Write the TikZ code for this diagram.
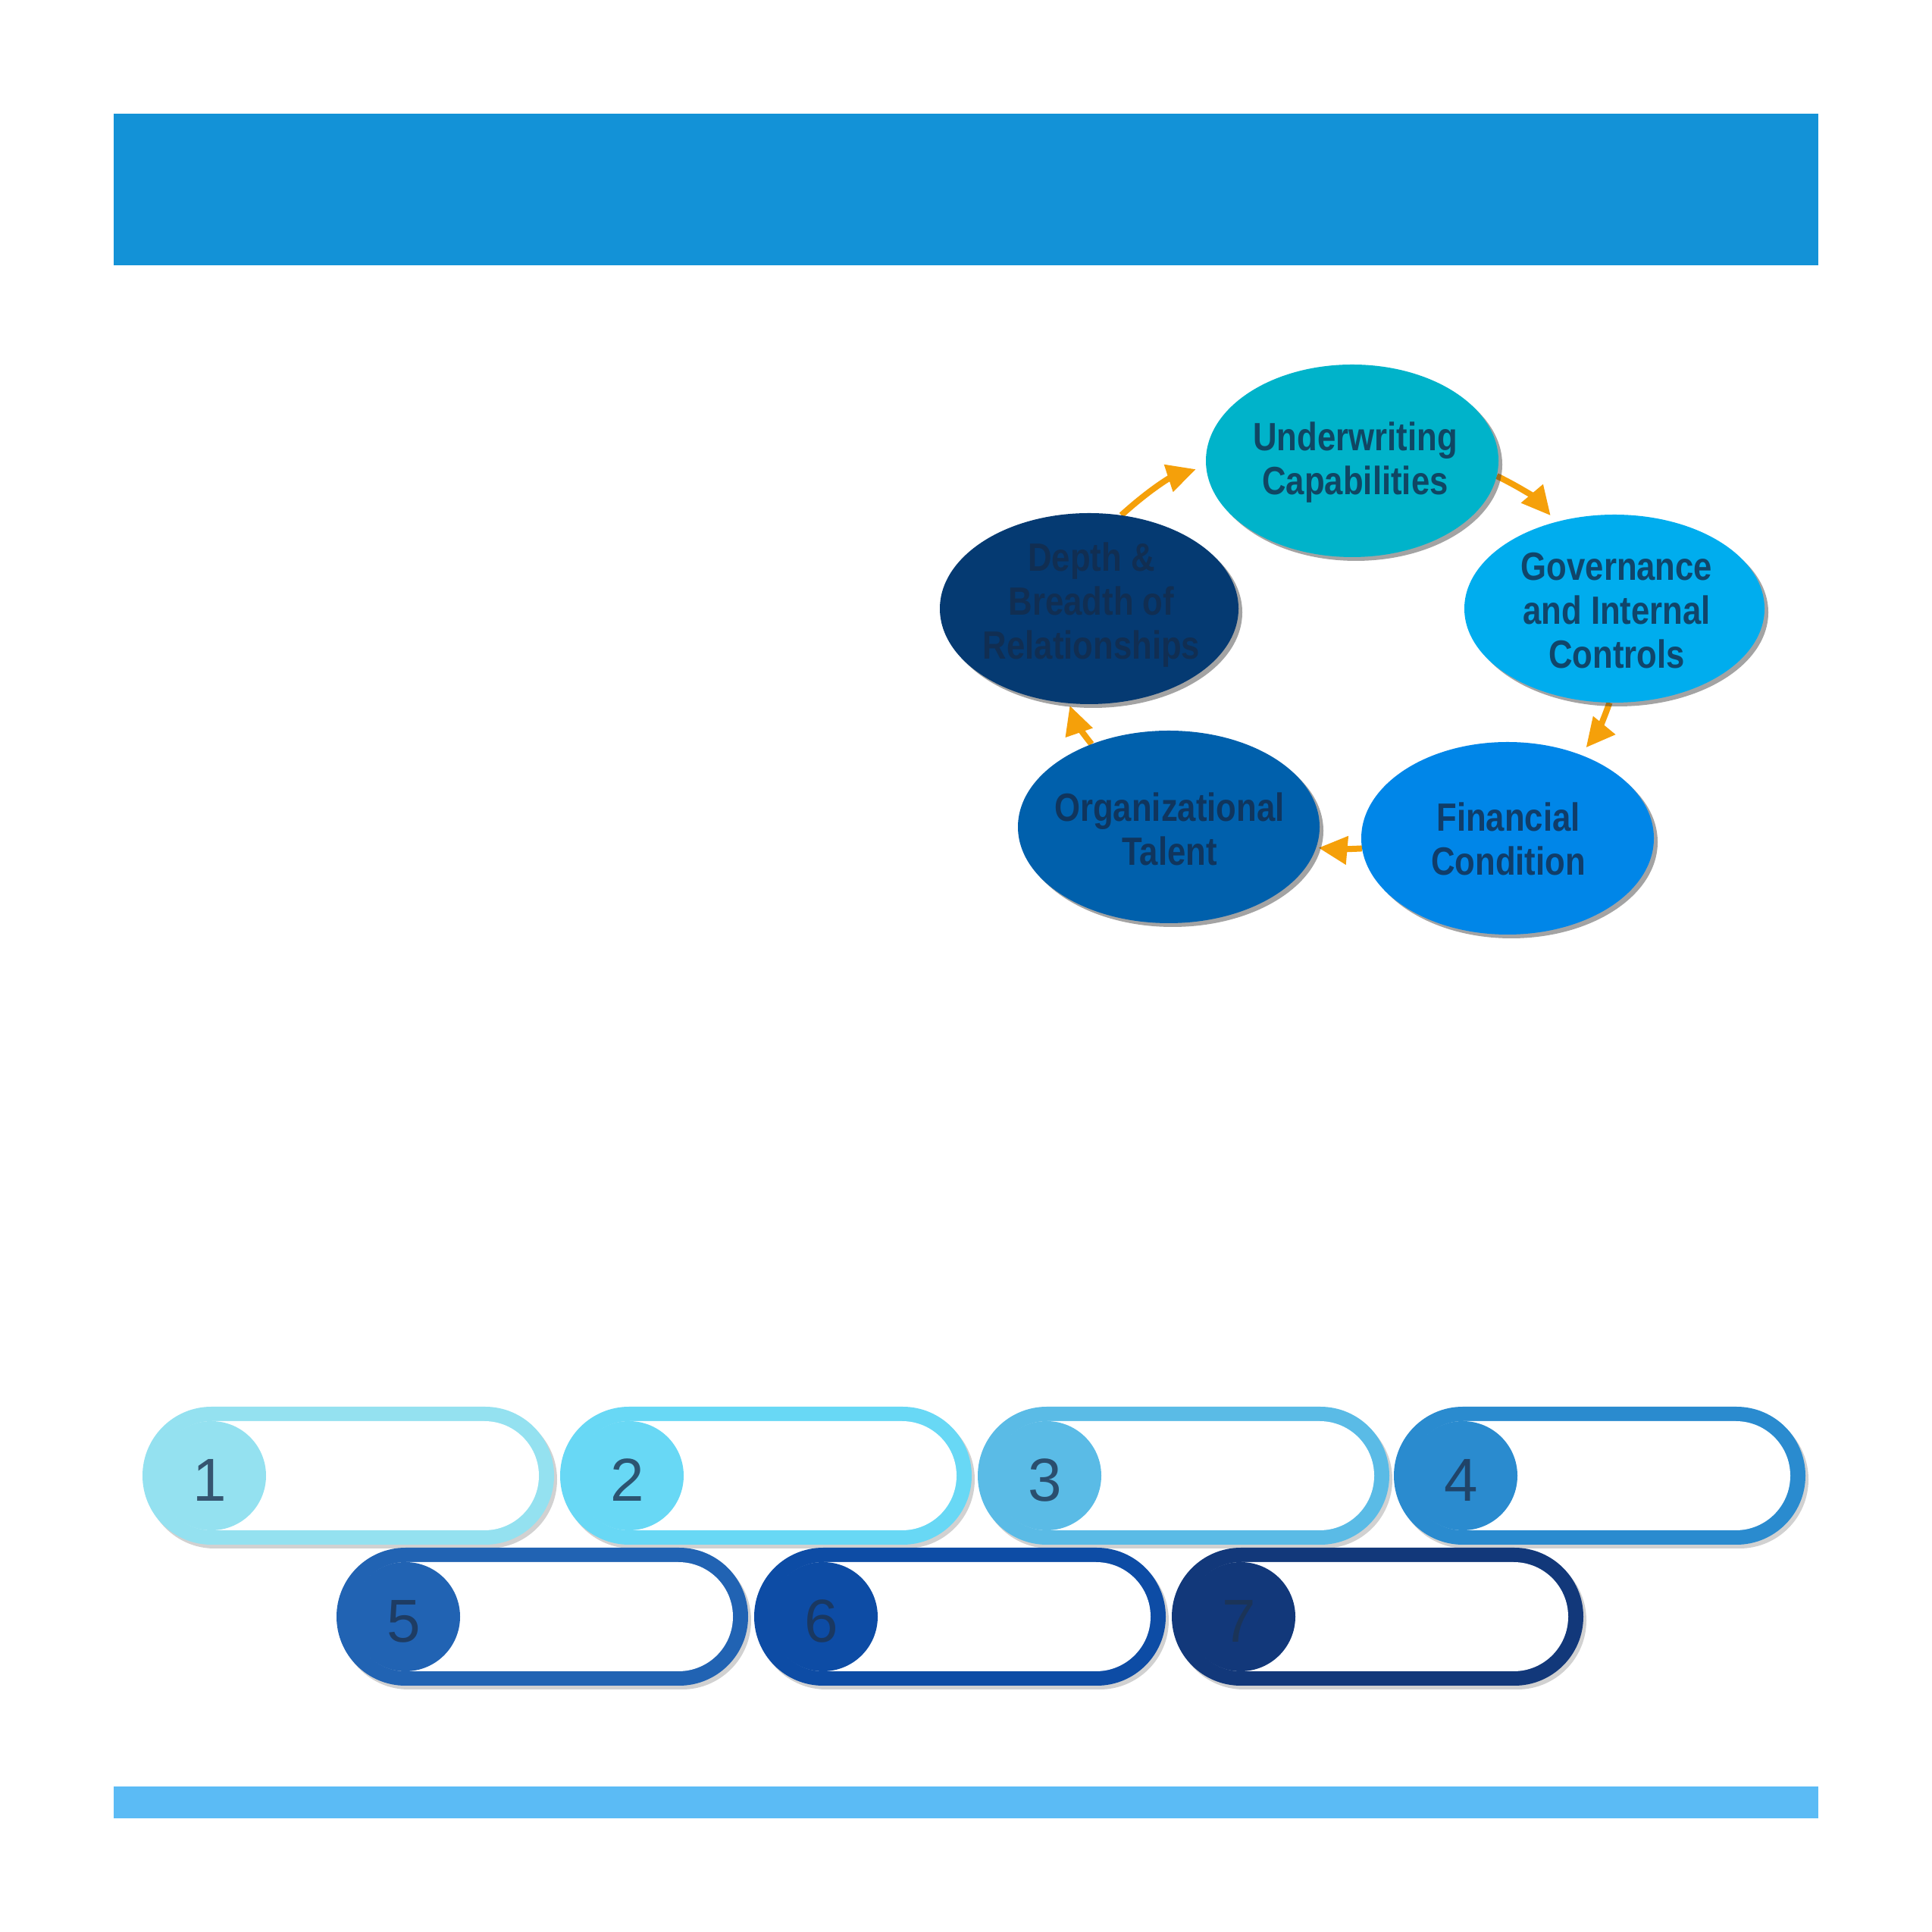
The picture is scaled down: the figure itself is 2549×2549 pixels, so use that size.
\documentclass[tikz,border=0pt]{standalone}
\usepackage{fontspec}
\setmainfont{Liberation Sans}
\newfontfamily\condfont[FakeStretch=0.84]{Liberation Sans}
\usetikzlibrary{shapes.geometric,shapes.misc,shadows,arrows.meta}
\definecolor{bannercol}{HTML}{1392D7}
\definecolor{barcol}{HTML}{5BBBF5}
\definecolor{undcol}{HTML}{00B3CA}
\definecolor{govcol}{HTML}{00ADEE}
\definecolor{fincol}{HTML}{0086E8}
\definecolor{orgcol}{HTML}{0060AC}
\definecolor{depcol}{HTML}{053A72}
\definecolor{arrcol}{HTML}{F5A00A}
\definecolor{elltxt}{HTML}{142B4A}
\definecolor{numcol}{HTML}{1E3350}
\definecolor{pa}{HTML}{94E1F0}
\definecolor{pb}{HTML}{68D8F5}
\definecolor{pc}{HTML}{5ABBE6}
\definecolor{pd}{HTML}{2A8BCF}
\definecolor{pe}{HTML}{2163B3}
\definecolor{pf}{HTML}{0D4CA5}
\definecolor{pg}{HTML}{12387A}
\pgfdeclarelayer{bg}
\pgfsetlayers{bg,main}
\begin{document}
\begin{tikzpicture}[x=1pt,y=1pt,
  ell/.style={ellipse, inner sep=0pt, draw=none,
    drop shadow={shadow xshift=5pt, shadow yshift=-5pt, opacity=0.45, fill=black!80}},
  elltext/.style={align=center, font=\condfont\bfseries\fontsize{52}{58}\selectfont,
    text=elltxt, text opacity=0.8, inner sep=0pt},
  arr/.style={draw=arrcol, line width=8pt, -{Triangle[length=38pt,width=36pt]}},
  pillout/.style={rounded rectangle, minimum width=543pt, minimum height=182pt, inner sep=0pt,
    drop shadow={shadow xshift=4pt, shadow yshift=-5pt, opacity=0.18, fill=black}},
  pillin/.style={rounded rectangle, fill=white, minimum width=503pt, minimum height=144pt, inner sep=0pt},
  pillcirc/.style={circle, minimum size=144pt, inner sep=0pt},
  numtxt/.style={font=\fontsize{80}{80}\selectfont, text=numcol, text opacity=0.8, inner sep=0pt}
]
\useasboundingbox (0,0) rectangle (2549,2549);
\begin{pgfonlayer}{bg}
\fill[white] (0,0) rectangle (2549,2549);
\end{pgfonlayer}

% banner and bottom bar
\fill[bannercol] (150,2199) rectangle (2399,2399);
\fill[barcol] (150,150) rectangle (2399,192);

% ellipses
\node[ell, fill=undcol, minimum width=386pt, minimum height=254pt] (und) at (1784,1941) {};
\node[ell, fill=govcol, minimum width=396pt, minimum height=248pt] (gov) at (2130,1746) {};
\node[ell, fill=fincol, minimum width=386pt, minimum height=254pt] (fin) at (1989,1443) {};
\node[ell, fill=orgcol, minimum width=398pt, minimum height=254pt] (org) at (1542,1458) {};
\node[ell, fill=depcol, minimum width=394pt, minimum height=252pt] (dep) at (1437,1746) {};

\node[elltext] (undt) at (1788,1939) {Underwriting\\Capabilities};
\node[elltext] (govt) at (2133,1743) {Governance\\and Internal\\Controls};
\node[elltext] (fint) at (1990,1442) {Financial\\Condition};
\node[elltext] (orgt) at (1543,1455) {Organizational\\Talent};
\node[elltext] (dept) at (1440,1751) {Depth \&\\Breadth of\\Relationships};

% arrows (behind ellipses)
\begin{pgfonlayer}{bg}
\draw[arr, shorten >=14pt] (dep.71) to[bend left=12] (und.182);
\draw[arr, shorten >=11pt] (und.-6) to[bend left=12] (gov.124);
\draw[arr, shorten >=12pt] (gov.-93) to[bend left=10] (fin.49);
\draw[arr, shorten >=3pt] (fin.184) to[bend left=4] (org.-8);
\draw[arr, shorten >=3pt] (org.133) to[bend left=10] (dep.-102);
\end{pgfonlayer}

% pills
\foreach \i/\x/\y/\c in {1/459.5/602/pa, 2/1010.5/602/pb, 3/1561.5/602/pc, 4/2110.5/602/pd,
                         5/715.5/416/pe, 6/1266.5/416/pf, 7/1817.5/416/pg}{
  \node[pillout, fill=\c] (pill\i) at (\x,\y) {};
  \node[pillin] (white\i) at (pill\i.center) {};
  \node[pillcirc, fill=\c] (circ\i) at ([xshift=-180.5pt]pill\i.center) {};
  \node[numtxt] (num\i) at ([xshift=-2pt,yshift=-6pt]circ\i.center) {\i};
}
\end{tikzpicture}
\end{document}
